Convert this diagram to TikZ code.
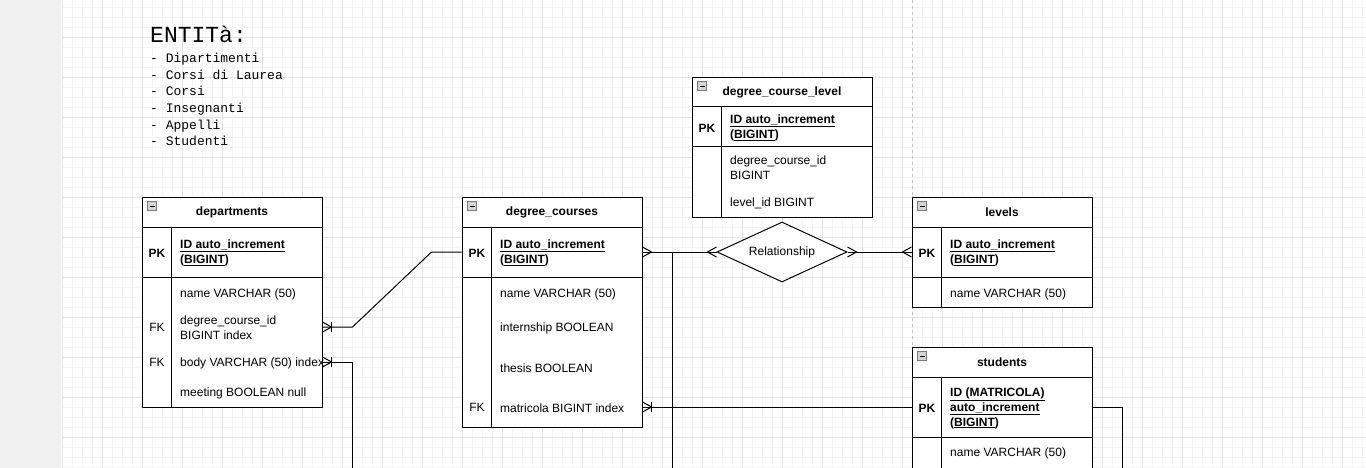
\documentclass[tikz,border=0pt]{standalone}
\usepackage{fontspec}
\setmainfont{Liberation Sans}
\newfontfamily\notefont{Liberation Mono}
\usetikzlibrary{positioning,shapes.geometric}
\definecolor{erLine}{HTML}{000000}
\definecolor{gridMinor}{HTML}{F4F4F4}
\definecolor{gridMajor}{HTML}{E4E4E4}
\definecolor{pageGray}{HTML}{F0F0F0}
\definecolor{breakGray}{HTML}{C4C4C4}
\definecolor{minusFill}{HTML}{D4D4D4}
\definecolor{minusLine}{HTML}{7A7A7A}
\newcommand{\fieldsize}{\fontsize{12}{15}\selectfont}

\begin{document}
\begin{tikzpicture}[x=1pt, y=-1pt,
  tbl/.style={draw=erLine, fill=white, line width=1pt, minimum width=180pt, inner sep=0pt},
  tbhead/.style={tbl, minimum height=30pt, font=\fieldsize\bfseries},
  tbline/.style={draw=erLine, line width=1pt},
  fld/.style={anchor=west, inner sep=0pt, align=left, font=\fieldsize},
  idfld/.style={fld, font=\fieldsize\bfseries},
  keyfld/.style={inner sep=0pt, font=\fieldsize},
  keybold/.style={keyfld, font=\fieldsize\bfseries},
  minus/.style={draw=minusLine, fill=minusFill, minimum size=9pt, inner sep=0pt,
    path picture={\draw[black, line width=0.8pt]
      ([xshift=2pt]path picture bounding box.west) -- ([xshift=-2pt]path picture bounding box.east);}},
  relbox/.style={diamond, draw=erLine, fill=white, line width=1pt, aspect=2.2,
    minimum width=130pt, minimum height=60pt, inner sep=0pt, font=\fieldsize},
  conn/.style={draw=erLine, line width=1pt},
  gridminor/.style={draw=gridMinor, line width=0.8pt},
  gridmajor/.style={draw=gridMajor, line width=0.8pt},
  crowfoot/.pic={\draw[line width=1pt] (0,-5) -- (9,0) -- (0,5);},
  crowbar/.pic={\draw[line width=1pt] (0,-5) -- (9,0) -- (0,5);
    \draw[line width=1pt] (9,-5) -- (9,5);}
]
  \useasboundingbox (0,0) rectangle (1366,468);
  \clip (0,0) rectangle (1366,468);

  % page and grid
  \fill[pageGray] (0,0) rectangle (61,468);
  \foreach \gx in {62,72,...,1362} \draw[gridminor] (\gx,0) -- (\gx,468);
  \foreach \gy in {7,17,...,467} \draw[gridminor] (62,\gy) -- (1366,\gy);
  \foreach \gx in {62,102,...,1342} \draw[gridmajor] (\gx,0) -- (\gx,468);
  \foreach \gy in {37,77,...,437} \draw[gridmajor] (62,\gy) -- (1366,\gy);
  \draw[breakGray, line width=0.8pt, dash pattern=on 3pt off 3pt] (912,0) -- (912,468);

  % note
  \node[anchor=base west, inner sep=0pt, font=\notefont\fontsize{23}{23}\selectfont] (entita) at (150,43) {ENTITà:};
  \node[anchor=north west, inner sep=0pt, align=left, font=\notefont\fontsize{13}{16.6}\selectfont] (entlist) at (150,53)
    {- Dipartimenti\\- Corsi di Laurea\\- Corsi\\- Insegnanti\\- Appelli\\- Studenti};

  % departments
  \node[tbhead] (dephead) at (232,212.5) {departments};
  \node[tbl, minimum height=50pt] (deppk) at (232,252) {};
  \node[tbl, minimum height=130pt] (depbody) at (232,342) {};
  \draw[tbline] ([xshift=30pt]deppk.north west) -- ([xshift=30pt]depbody.south west);
  \node[minus] (depmin) at (152,206) {};
  \node[keybold] (depk) at (157,253) {PK};
  \node[idfld] (depid) at (180,253) {\underline{ID auto\_increment}\\(\underline{BIGINT})};
  \node[fld] (depname) at (180,294) {name VARCHAR (50)};
  \node[keyfld] (depfka) at (157,327) {FK};
  \node[fld] (depdcid) at (180,328) {degree\_course\_id\\BIGINT index};
  \node[keyfld] (depfkb) at (157,362) {FK};
  \node[fld] (depbodyf) at (180,363) {body VARCHAR (50) index};
  \node[fld] (depmeet) at (180,393) {meeting BOOLEAN null};

  % degree_courses
  \node[tbhead] (dchead) at (552,212.5) {degree\_courses};
  \node[tbl, minimum height=50pt] (dcpk) at (552,252) {};
  \node[tbl, minimum height=150pt] (dcbody) at (552,352) {};
  \draw[tbline] ([xshift=30pt]dcpk.north west) -- ([xshift=30pt]dcbody.south west);
  \node[minus] (dcmin) at (472,206) {};
  \node[keybold] (dck) at (477,253) {PK};
  \node[idfld] (dcid) at (500,253) {\underline{ID auto\_increment}\\(\underline{BIGINT})};
  \node[fld] (dcname) at (500,294) {name VARCHAR (50)};
  \node[fld] (dcintern) at (500,328) {internship BOOLEAN};
  \node[fld] (dcthesis) at (500,368) {thesis BOOLEAN};
  \node[keyfld] (dcfk) at (477,407) {FK};
  \node[fld] (dcmatr) at (500,408) {matricola BIGINT index};

  % degree_course_level
  \node[tbhead] (dclhead) at (782,92.5) {degree\_course\_level};
  \node[tbl, minimum height=40pt] (dclpk) at (782,127) {};
  \node[tbl, minimum height=70pt] (dclbody) at (782,182) {};
  \draw[tbline] ([xshift=30pt]dclpk.north west) -- ([xshift=30pt]dclbody.south west);
  \node[minus] (dclmin) at (702,86) {};
  \node[keybold] (dclk) at (707,128) {PK};
  \node[idfld] (dclid) at (730,128) {\underline{ID auto\_increment}\\(\underline{BIGINT})};
  \node[fld] (dcldc) at (730,167.5) {degree\_course\_id\\BIGINT};
  \node[fld] (dcllv) at (730,203) {level\_id BIGINT};

  % levels
  \node[tbhead] (lvhead) at (1002,212.5) {levels};
  \node[tbl, minimum height=50pt] (lvpk) at (1002,252) {};
  \node[tbl, minimum height=30pt] (lvbody) at (1002,292) {};
  \draw[tbline] ([xshift=30pt]lvpk.north west) -- ([xshift=30pt]lvbody.south west);
  \node[minus] (lvmin) at (922,206) {};
  \node[keybold] (lvk) at (927,253) {PK};
  \node[idfld] (lvid) at (950,253) {\underline{ID auto\_increment}\\(\underline{BIGINT})};
  \node[fld] (lvname) at (950,294) {name VARCHAR (50)};

  % students
  \node[tbhead] (sthead) at (1002,362.5) {students};
  \node[tbl, minimum height=60pt] (stpk) at (1002,407) {};
  \node[tbl, minimum height=60pt] (stbody) at (1002,467) {};
  \draw[tbline] ([xshift=30pt]stpk.north west) -- ([xshift=30pt]stbody.south west);
  \node[minus] (stmin) at (922,356) {};
  \node[keybold] (stk) at (927,408) {PK};
  \node[idfld] (stid) at (950,408) {\underline{ID (MATRICOLA)}\\\underline{auto\_increment}\\(\underline{BIGINT})};
  \node[fld] (stname) at (950,453) {name VARCHAR (50)};

  % relationship
  \node[relbox] (rel) at (782,252) {Relationship};

  % connectors
  \coordinate (depdown) at (352,468);
  \coordinate (dcdown) at (672,468);
  \coordinate (stdown) at (1122,468);
  \draw[conn] (depbody.east |- depfka) -- ++(30,0) -- ([xshift=-30pt]dcpk.west) -- (dcpk.west);
  \draw[conn] (depbody.east |- depfkb) -| (depdown);
  \draw[conn] (dcpk.east) -- (rel.west);
  \draw[conn] (dcpk.east) -| (dcdown);
  \draw[conn] (rel.east) -- (lvpk.west);
  \draw[conn] (dcbody.east |- dcfk) -- (stpk.west);
  \draw[conn] (stpk.east) -| (stdown);

  \pic at (depbody.east |- depfka) {crowbar};
  \pic at (depbody.east |- depfkb) {crowbar};
  \pic at (dcpk.east) {crowfoot};
  \pic[xscale=-1] at (rel.west) {crowfoot};
  \pic at (rel.east) {crowfoot};
  \pic[xscale=-1] at (lvpk.west) {crowfoot};
  \pic at (dcbody.east |- dcfk) {crowbar};
\end{tikzpicture}
\end{document}
